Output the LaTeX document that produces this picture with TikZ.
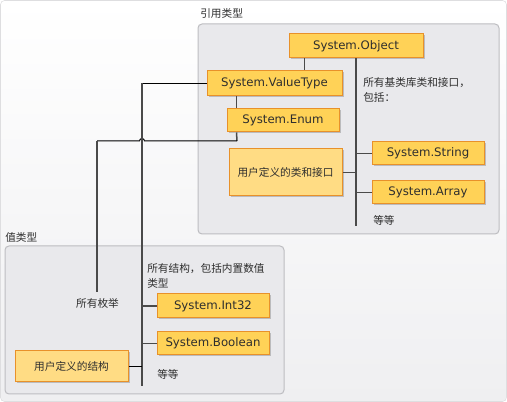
\documentclass[tikz,border=0pt]{standalone}
\usepackage{fontspec}
\setmainfont{DejaVu Sans}
\newfontfamily\cjk{Noto Sans CJK SC}
\usetikzlibrary{calc,shadows}
\definecolor{boxfill}{HTML}{FFD257}
\definecolor{userfill}{HTML}{FFDC84}
\definecolor{boxline}{HTML}{E8912A}
\definecolor{panelfill}{HTML}{E9E9EC}
\definecolor{panelline}{HTML}{BDBDC1}
\definecolor{framefill}{HTML}{EFEFF1}
\definecolor{frameline}{HTML}{DEDEE0}
\definecolor{trunkcol}{HTML}{4A4A4A}
\definecolor{textcol}{HTML}{2E2E2E}
\newlength{\pxu}\setlength{\pxu}{0.75pt}

\begin{document}
\begin{tikzpicture}[
  x=0.75pt, y=-0.75pt,
  typebox/.style={draw=boxline,fill=boxfill,line width=1\pxu,inner sep=0pt,
    minimum width=112\pxu,minimum height=23\pxu,text=textcol,
    font=\fontsize{8.8}{10}\selectfont,
    drop shadow={shadow xshift=1.5\pxu,shadow yshift=-1.5\pxu,opacity=.35,fill=black!60}},
  userbox/.style={typebox,fill=userfill,font=\cjk\fontsize{8}{10}\selectfont},
  panel/.style={draw=panelline,fill=panelfill,rounded corners=4\pxu,line width=1\pxu},
  note/.style={font=\cjk\fontsize{8}{11.25}\selectfont,text=textcol,inner sep=0pt,align=left},
  trunk/.style={draw=trunkcol,line width=1.5\pxu},
  link/.style={draw=black,line width=1\pxu}
]
\useasboundingbox (0,0) rectangle (507,402);
\draw[draw=frameline,top color=white,bottom color=framefill,rounded corners=4\pxu]
  (0.5,0.5) rectangle (506.5,401.5);

% panels
\draw[panel] (198,24) rectangle (499,234);
\draw[panel] (5,246) rectangle (284,394);
\node[note,anchor=west] (reflabel) at (200,13) {引用类型};
\node[note,anchor=west] (vallabel) at (5,237) {值类型};

% reference types
\node[typebox,minimum width=134\pxu,minimum height=24\pxu] (object) at (356,46) {System.Object};
\node[typebox,minimum width=135\pxu,minimum height=25\pxu] (valuetype) at (274.5,83.5) {System.ValueType};
\node[typebox] (enum) at (283,120.5) {System.Enum};
\node[userbox,minimum width=113\pxu,minimum height=47\pxu] (userclass) at (285.5,172.5) {用户定义的类和接口};
\node[typebox] (string) at (428,153.5) {System.String};
\node[typebox] (array) at (428,192.5) {System.Array};
\node[note,anchor=north west] (baselib) at (363,77) {所有基类库类和接口，\\包括：};
\node[note,anchor=west] (refetc) at (373,220) {等等};

% value types
\node[typebox,minimum height=24\pxu] (int32) at (213,306) {System.Int32};
\node[typebox] (boolean) at (213,343.5) {System.Boolean};
\node[userbox,minimum width=113\pxu,minimum height=31\pxu] (userstruct) at (71.5,366.5) {用户定义的结构};
\node[note,anchor=north west] (structs) at (147,263) {所有结构，包括内置数值\\类型};
\node[note] (enums) at (97.5,303) {所有枚举};
\node[note,anchor=west] (valetc) at (157,374) {等等};

% connectors
\coordinate (refend) at ($(object.south)+(0,168)$);
\coordinate (ov) at ($(object.south west)+(16,0)$);
\coordinate (ve) at ($(valuetype.south west)+(30,0)$);
\coordinate (enturn) at (237,141);
\coordinate (enturnb) at (97,141);
\coordinate (enend) at (97,292);
\coordinate (vtturn) at (142,83.5);
\coordinate (vtend) at (142,386);

\draw[trunk] (object.south) -- (refend);
\draw[trunk] (ov) -- (ov |- valuetype.north);
\draw[trunk] (ve) -- (ve |- enum.north);
\draw[trunk] (string.west) -- (string.west -| object.south);
\draw[trunk] (array.west) -- (array.west -| object.south);
\draw[trunk] (userclass.east) -- (userclass.east -| object.south);

\draw[trunk] (ve |- enum.south) -- (enturn);
\draw[link] (enturn) -- (144.5,141) arc[start angle=0,end angle=180,radius=2.5\pxu] -- (enturnb);
\draw[trunk] (enturnb) -- (enend);

\draw[link] (valuetype.west) -- (vtturn);
\draw[trunk] (vtturn) -- (vtend);
\draw[trunk] (int32.west) -- (int32.west -| vtturn);
\draw[trunk] (boolean.west) -- (boolean.west -| vtturn);
\draw[link] (userstruct.east) -- (userstruct.east -| vtturn);
\end{tikzpicture}
\end{document}
